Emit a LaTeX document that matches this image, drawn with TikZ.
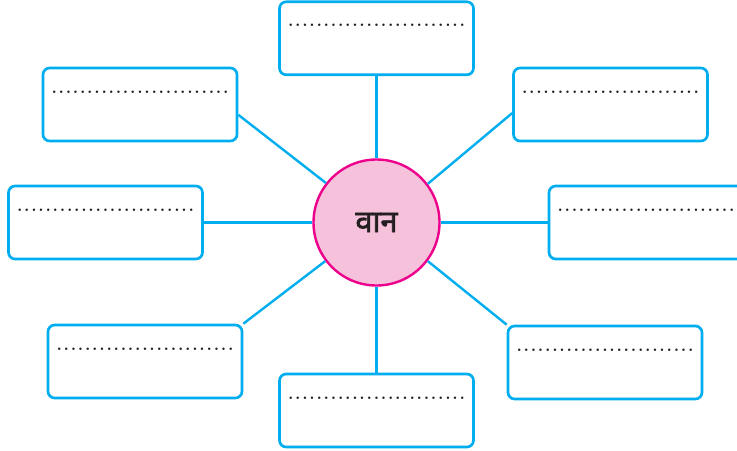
\documentclass[tikz,border=0pt]{standalone}
\usepackage{fontspec}
\newfontfamily\deva[Script=Devanagari,FakeBold=2.2]{Noto Sans}
\definecolor{boxblue}{HTML}{00AEEF}
\definecolor{hubpink}{HTML}{F6C2DB}
\definecolor{hubrim}{HTML}{EC008C}
\definecolor{ink}{HTML}{231F20}
\newcommand\dotrow{\hbox to 132.75pt{.\foreach\i in {1,...,24}{\hfill.}}}
\begin{document}
\begin{tikzpicture}[x=0.75pt,y=-0.75pt,
  blank/.style={draw=boxblue, line width=2pt, rounded corners=5pt, fill=white,
    inner sep=0pt, minimum width=145.5pt, text height=18.75pt, text depth=36pt,
    font=\bfseries\fontsize{13}{14}\selectfont, text=ink},
  hub/.style={circle, draw=hubrim, line width=1.8pt, fill=hubpink, minimum size=94.5pt,
    inner sep=0pt, font=\deva\fontsize{23}{25}\selectfont, text=ink},
  spoke/.style={draw=boxblue, line width=1.8pt}]
\useasboundingbox (0,0) rectangle (737,450);
\node[hub] (c) at (376.5,222.5) {वान};
\node[blank] (t)  at (376.5,38.3)  {\dotrow};
\node[blank] (ul) at (140,104.5)   {\dotrow};
\node[blank] (ur) at (610.5,104.5) {\dotrow};
\node[blank] (l)  at (105.5,222.5) {\dotrow};
\node[blank] (r)  at (646,222.5)   {\dotrow};
\node[blank] (ll) at (145,361.5)   {\dotrow};
\node[blank] (lr) at (605,362.5)   {\dotrow};
\node[blank] (b)  at (376.5,410.5) {\dotrow};
\draw[spoke] (c.north) -- (t.south);
\draw[spoke] (c.south) -- (b.north);
\draw[spoke] (c.west) -- (l.east);
\draw[spoke] (c.east) -- (r.west);
\draw[spoke] (c.142.5) -- (ul.-6.5);
\draw[spoke] (c.37.5) -- (ur.185);
\draw[spoke] (c.217.5) -- (ll.north east);
\draw[spoke] (c.-37.5) -- (lr.north west);
\end{tikzpicture}
\end{document}
